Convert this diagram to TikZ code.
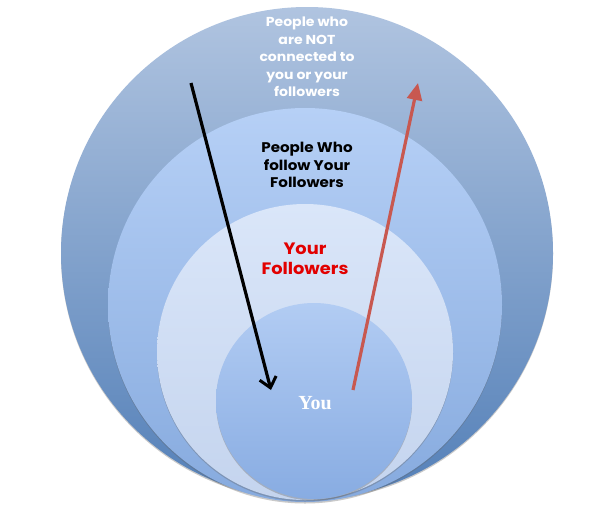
\documentclass[tikz,border=0pt]{standalone}
\usepackage{fontspec}
\setmainfont{Liberation Serif}
\newfontfamily\gothic[FakeStretch=1.08]{Poppins}
\usetikzlibrary{arrows.meta,shadows}
\definecolor{ringAtop}{RGB}{176,196,224}
\definecolor{ringAbot}{RGB}{84,128,184}
\definecolor{ringBtop}{RGB}{182,208,246}
\definecolor{ringBbot}{RGB}{134,170,222}
\definecolor{ringCtop}{RGB}{218,230,249}
\definecolor{ringCbot}{RGB}{196,212,238}
\definecolor{ringDtop}{RGB}{178,204,243}
\definecolor{ringDbot}{RGB}{136,172,226}
\definecolor{arrowred}{RGB}{200,88,80}
\definecolor{labelred}{RGB}{226,0,0}
\begin{document}
\begin{tikzpicture}[x=1pt,y=-1pt,
  ring/.style={circle,inner sep=0pt,draw=none,
    drop shadow={shadow xshift=0pt,shadow yshift=-1.5pt,opacity=0.35,fill=black!60}},
  labeltext/.style={font=\gothic\bfseries,align=center,inner sep=0pt},
  blackarrow/.style={line width=3.2pt,black,-{Straight Barb[length=10pt,width=17pt,line width=3pt]}},
  redarrow/.style={line width=3.2pt,arrowred,-{Triangle[length=17pt,width=15pt]}}]
\useasboundingbox (0,0) rectangle (610,512);
\fill[white] (0,0) rectangle (610,512);
\node[ring,minimum size=492pt,top color=ringAtop,bottom color=ringAbot] (outer) at (307,253) {};
\node[ring,minimum size=394pt,top color=ringBtop,bottom color=ringBbot] (second) at (305,305) {};
\node[ring,minimum size=296pt,top color=ringCtop,bottom color=ringCbot] (third) at (305,352) {};
\node[ring,minimum size=196pt,top color=ringDtop,bottom color=ringDbot] (you) at (314,401) {};
\node[labeltext,text=white,font=\gothic\bfseries\fontsize{13}{17.4}\selectfont] (outerlabel) at (307,57)
  {People who\\are NOT\\connected to\\you or your\\followers};
\node[labeltext,text=black,font=\gothic\bfseries\fontsize{14}{17.6}\selectfont] (secondlabel) at (307,165)
  {People Who\\follow Your\\Followers};
\node[labeltext,text=labelred,font=\gothic\bfseries\fontsize{16.5}{19.5}\selectfont] (thirdlabel) at (305,259)
  {Your\\Followers};
\node[font=\bfseries\fontsize{20}{22}\selectfont,text=white,inner sep=0pt] (youlabel) at (315,403) {You};
\coordinate (bstart) at (191,83);
\coordinate (bend) at (271,390);
\coordinate (rstart) at (353,390);
\coordinate (rend) at (418,83);
\draw[blackarrow] (bstart) -- (bend);
\draw[redarrow] (rstart) -- (rend);
\end{tikzpicture}
\end{document}
